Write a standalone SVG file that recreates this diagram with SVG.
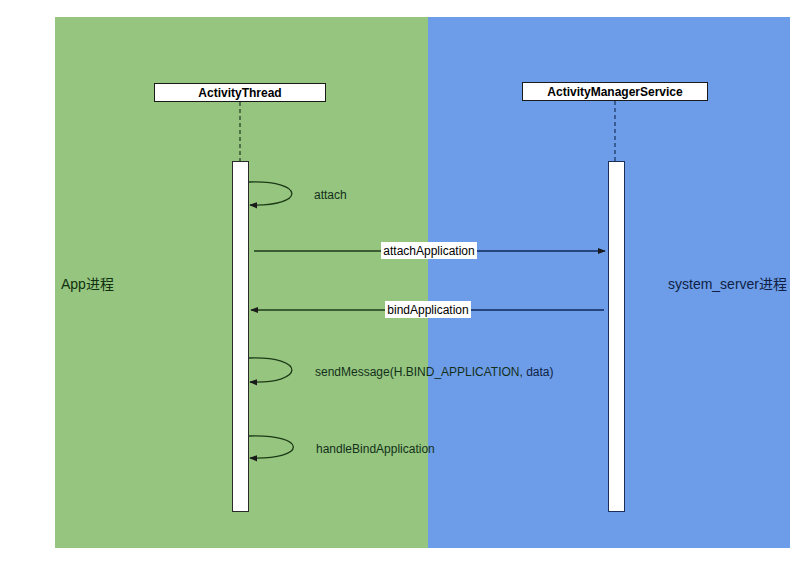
<svg xmlns="http://www.w3.org/2000/svg" width="810" height="568" viewBox="0 0 810 568">
<defs>
<style>
.lane-g{fill:#95c57f}
.lane-b{fill:#6d9de8}
.hdr{fill:#fff;stroke:#1a1a1a;stroke-width:1}
.hdr-t{font-family:"Liberation Sans",Arial,sans-serif;font-size:12px;font-weight:bold;fill:#000;text-anchor:middle}
.life{stroke:#1f3a1f;stroke-width:1.2;stroke-dasharray:4,3;fill:none}
.act{fill:#fff;stroke:#2a2a2a;stroke-width:1}
.msg{stroke:#1d3a17;stroke-width:1.3;fill:none}
.t{font-family:"Liberation Sans",Arial,sans-serif;font-size:12px;fill:#14301a}
.lane-t{font-family:"Liberation Sans",Arial,"Noto Sans CJK SC",sans-serif;font-size:14px}
.lbl{fill:#fff}
</style>
<marker id="ah" viewBox="0 0 10 10" refX="9" refY="5" markerWidth="8" markerHeight="8" markerUnits="userSpaceOnUse" orient="auto">
<path d="M0,1 L10,5 L0,9 Z" fill="#1a1a1a"/>
</marker>
</defs>
<rect width="810" height="568" fill="#fff"/>
<g id="lane-app">
<rect class="lane-g" x="55" y="17" width="373" height="531"/>
<text class="lane-t" x="61" y="289" fill="#10300f">App进程</text>
</g>
<g id="lane-system">
<rect class="lane-b" x="428" y="17" width="362" height="531"/>
<text class="lane-t" x="668" y="289" fill="#0f1f45">system_server进程</text>
</g>
<g id="activitythread">
<rect class="hdr" x="154.5" y="83.5" width="171" height="18"/>
<text class="hdr-t" x="240" y="97">ActivityThread</text>
<line class="life" x1="240" y1="102" x2="240" y2="161"/>
<rect class="act" x="232.5" y="161.5" width="16" height="350"/>
</g>
<g id="activitymanagerservice">
<rect class="hdr" x="522.5" y="82.5" width="185" height="18"/>
<text class="hdr-t" x="615" y="95.5">ActivityManagerService</text>
<line class="life" x1="615" y1="101" x2="615" y2="161" style="stroke:#1a2f5a"/>
<rect class="act" x="608.5" y="161.5" width="16" height="350" style="stroke:#1a2f5a"/>
</g>
<g id="connectors">
<path class="msg" d="M249,182 C306,180 306,207 250,205" marker-end="url(#ah)"/>
<text class="t" x="314" y="199">attach</text>
<line class="msg" x1="254" y1="251" x2="428" y2="251"/>
<line class="msg" x1="428" y1="251" x2="605" y2="251" style="stroke:#10285a" marker-end="url(#ah)"/>
<rect class="lbl" x="381" y="242" width="96" height="17"/>
<text class="t" x="429" y="255" text-anchor="middle" style="fill:#000">attachApplication</text>
<line class="msg" x1="604" y1="310" x2="428" y2="310" style="stroke:#10285a"/>
<line class="msg" x1="428" y1="310" x2="251" y2="310" marker-end="url(#ah)"/>
<rect class="lbl" x="385" y="301" width="86" height="17"/>
<text class="t" x="428" y="314" text-anchor="middle" style="fill:#000">bindApplication</text>
<path class="msg" d="M249,358 C306,356 306,384 250,382" marker-end="url(#ah)"/>
<text class="t" x="315" y="376">sendMessage(H.BIND_APPLICATION, <tspan style="fill:#0f1f45">data)</tspan></text>
<path class="msg" d="M249,436 C308,434 308,460 250,458" marker-end="url(#ah)"/>
<text class="t" x="316" y="453">handleBindApplication</text>
</g>
</svg>
